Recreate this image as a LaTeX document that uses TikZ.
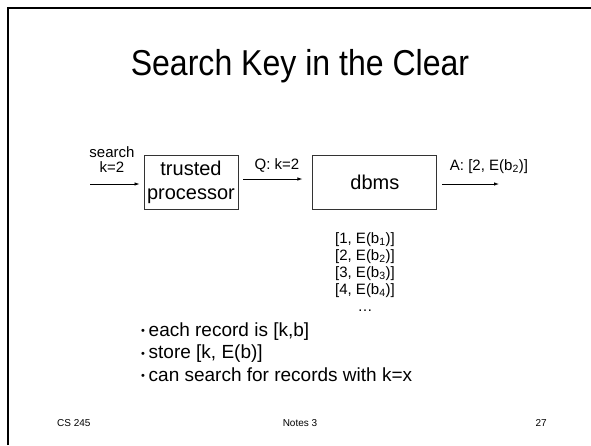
\documentclass[tikz,border=0pt]{standalone}
\usepackage{fontspec}
\setmainfont{Liberation Sans}
\newfontfamily\titlefont[FakeStretch=0.89]{Liberation Sans}
\usetikzlibrary{arrows.meta,positioning}
\newcommand\pdot{\makebox[7.5pt][l]{\fontsize{11}{11}\selectfont\raisebox{1.3pt}{\textbullet}}}
\tikzset{
	box/.style={
		rectangle,
		draw=black!80,
		line width=0.9pt,
		minimum height=54pt,
		inner sep=0pt,
		align=center,
		font=\fontsize{20}{24}\selectfont
	},
	flow/.style={
		-{Latex[length=5pt,width=3.5pt]},
		line width=0.8pt
	},
	small/.style={anchor=base, inner sep=0pt, font=\fontsize{15}{15}\selectfont},
	point/.style={anchor=base west, inner sep=0pt, font=\fontsize{19}{22}\selectfont},
	foot/.style={anchor=base, inner sep=0pt, font=\fontsize{10}{12}\selectfont}
}

\begin{document}
\begin{tikzpicture}[x=1pt,y=-1pt]
\useasboundingbox (0,0) rectangle (591,445);
% slide frame
\draw[line width=2.5pt] (8,445) -- (8,8) -- (591,8);
% title
\node[anchor=base, inner sep=0pt, font=\titlefont\fontsize{36}{40}\selectfont] (title) at (300,75) {Search Key in the Clear};
% boxes
\node[box, minimum width=94pt] (tp) at (191,182) {trusted\\processor};
\node[box, minimum width=124pt, right=74pt of tp] (db) {dbms};
% arrows
\coordinate (in) at (90,184);
\coordinate (out) at (499,184);
\draw[flow, shorten >=4pt] (in) -- (in -| tp.west);
\draw[flow, shorten <=5pt, shorten >=10pt] ([yshift=3pt]tp.east) -- ([yshift=3pt]db.west);
\draw[flow, shorten <=5pt] (db.east |- out) -- (out);
% arrow labels
\node[small] (search) at (112,157) {search};
\node[small] (key) at (112,172) {k=2};
\node[small] (query) at (277,169) {Q: k=2};
\node[small] (answer) at (489,170) {A: [2, E(b\textsubscript{2})]};
% stored records
\foreach \i in {1,...,4}
	\node[small] (rec\i) at (365,{226+17*\i}) {[\i, E(b\textsubscript{\i})]};
\node[small] (more) at (365,311) {\dots};
% bullets
\node[point] (p1) at (141,336) {\pdot each record is [k,b]};
\node[point] (p2) at (141,358.5) {\pdot store [k, E(b)]};
\node[point] (p3) at (141,381) {\pdot can search for records with k=x};
% footer
\node[foot, anchor=base west] (course) at (57,426) {CS 245};
\node[foot] (notes) at (300,426) {Notes 3};
\node[foot, anchor=base east] (page) at (547,426) {27};
\end{tikzpicture}
\end{document}
